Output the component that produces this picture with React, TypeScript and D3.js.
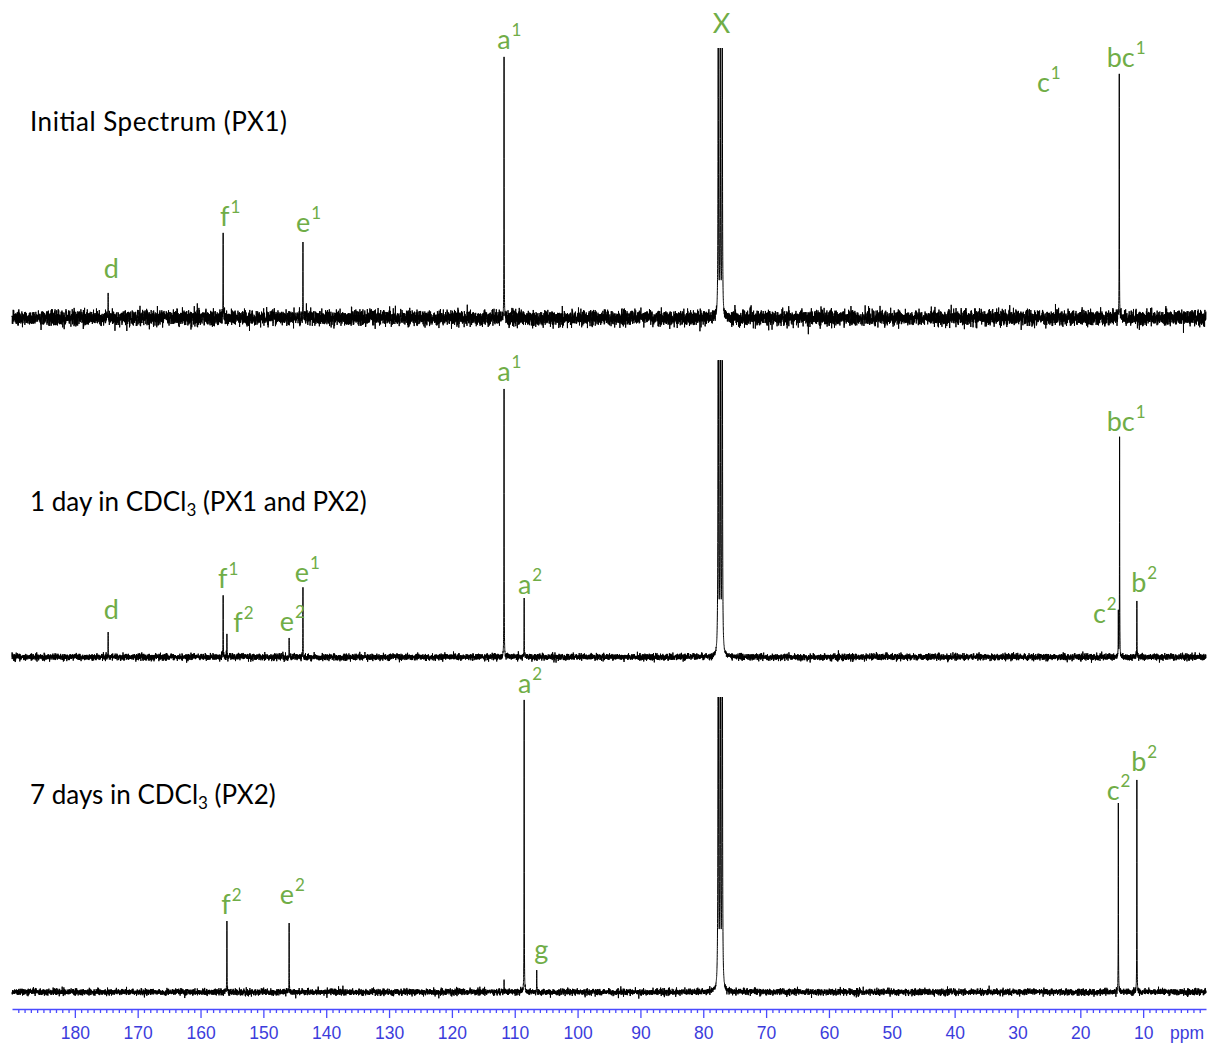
import React, { useRef, useEffect } from "react";
import * as d3 from "d3";

// peak positions (ppm) and heights (relative, tallest labelled peak = 100)
const peaksPX1 = [
  { ppm: 174.7, height: 9.6 },
  { ppm: 156.4, height: 32.6 },
  { ppm: 143.7, height: 29.1 },
  { ppm: 111.7, height: 100 },
  { ppm: 36.8, height: 4 },
  { ppm: 13.8, height: 93.5 },
];
const peaksDay1 = [
  { ppm: 174.7, height: 9.3 },
  { ppm: 156.4, height: 23 },
  { ppm: 155.8, height: 8.6 },
  { ppm: 145.9, height: 7.1 },
  { ppm: 143.7, height: 26 },
  { ppm: 111.7, height: 100 },
  { ppm: 108.5, height: 22 },
  { ppm: 13.75, height: 82 },
  { ppm: 13.95, height: 16.8 },
  { ppm: 11.0, height: 20.9 },
];
const peaksDay7 = [
  { ppm: 155.8, height: 24.3 },
  { ppm: 145.9, height: 23.6 },
  { ppm: 111.7, height: 3.4 },
  { ppm: 108.5, height: 100 },
  { ppm: 106.5, height: 7.5 },
  { ppm: 13.95, height: 64.7 },
  { ppm: 11.0, height: 72.6 },
];

// CDCl3 solvent triplet (X)
const solventPpm = [77.62, 77.3, 76.98];
const solventHeight = [150, 300, 300];
const solventWidth = [0.035, 0.03, 0.03];
const noiseLevel = [1.45, 0.6, 0.55];

const labelsPX1 = [
  { text: "d", ppm: 175.4, level: 15.3 },
  { text: "f", sup: "1", ppm: 156.9, level: 35.2 },
  { text: "e", sup: "1", ppm: 144.8, level: 33.0 },
  { text: "a", sup: "1", ppm: 112.8, level: 103.1 },
  { text: "X", ppm: 78.5, level: 109.2 },
  { text: "c", sup: "1", ppm: 26.9, level: 86.6 },
  { text: "bc", sup: "1", ppm: 15.8, level: 96.2 },
];
const labelsDay1 = [
  { text: "d", ppm: 175.4, level: 14.2 },
  { text: "f", sup: "1", ppm: 157.2, level: 25.7 },
  { text: "f", sup: "2", ppm: 154.8, level: 9.3 },
  { text: "e", sup: "2", ppm: 147.4, level: 9.7 },
  { text: "e", sup: "1", ppm: 145.0, level: 28.0 },
  { text: "a", sup: "1", ppm: 112.8, level: 103.0 },
  { text: "a", sup: "2", ppm: 109.5, level: 23.5 },
  { text: "bc", sup: "1", ppm: 15.8, level: 84.3 },
  { text: "c", sup: "2", ppm: 18.0, level: 12.7 },
  { text: "b", sup: "2", ppm: 11.9, level: 24.3 },
];
const labelsDay7 = [
  { text: "f", sup: "2", ppm: 156.7, level: 26.7 },
  { text: "e", sup: "2", ppm: 147.4, level: 30.1 },
  { text: "a", sup: "2", ppm: 109.5, level: 102.4 },
  { text: "g", ppm: 106.9, level: 11.3 },
  { text: "c", sup: "2", ppm: 15.8, level: 65.8 },
  { text: "b", sup: "2", ppm: 11.9, level: 75.7 },
];

const titles = [
  { pre: "Initial Spectrum (PX1)", sub: "", post: "" },
  { pre: "1 day in CDCl", sub: "3", post: " (PX1 and PX2)" },
  { pre: "7 days in CDCl", sub: "3", post: " (PX2)" },
];

const majorTicks = d3.range(10, 190, 10);
const minorTicks = d3.range(1, 190).filter((v) => v % 10 !== 0);

const width = 1209;
const height = 1043;
const green = "#70ad47";
const blue = "#4a4aff";
const font = "Lato, 'Open Sans', sans-serif";

// panel layout: baseline y, clip top y, level at clip top
const panels = [
  { base: 318, top: 48, maxLevel: 103.4, titleY: 131, titleW: 257 },
  { base: 657, top: 360, maxLevel: 110.8, titleY: 511, titleW: 337 },
  { base: 992, top: 697, maxLevel: 101, titleY: 804, titleW: 245 },
];

function mulberry32(a: number) {
  return function () {
    a |= 0;
    a = (a + 0x6d2b79f5) | 0;
    let t = Math.imul(a ^ (a >>> 15), 1 | a);
    t = (t + Math.imul(t ^ (t >>> 7), 61 | t)) ^ t;
    return ((t ^ (t >>> 14)) >>> 0) / 4294967296;
  };
}

const App = () => {
  const svgRef = useRef<SVGSVGElement>(null);

  useEffect(() => {
    const svg = d3.select(svgRef.current);
    svg.selectAll("*").remove();

    const x = d3.scaleLinear().domain([190, 0]).range([12, 1206]);
    const allPeaks = [peaksPX1, peaksDay1, peaksDay7];
    const allLabels = [labelsPX1, labelsDay1, labelsDay7];

    const step = 0.016;
    const nCoarse = Math.round(190 / step);

    allPeaks.forEach((peaks, i) => {
      const p = panels[i];
      const y = d3.scaleLinear().domain([0, p.maxLevel]).range([p.base, p.top]);

      // baseline noise texture (deterministic)
      const rnd = mulberry32(17 + i * 101);
      const noise: number[] = [];
      for (let k = 0; k <= nCoarse + 1; k++) {
        const u1 = Math.max(rnd(), 1e-9);
        const u2 = rnd();
        noise.push(Math.sqrt(-2 * Math.log(u1)) * Math.cos(2 * Math.PI * u2) * noiseLevel[i]);
      }
      const noiseAt = (ppm: number) => {
        const f = (190 - ppm) / step;
        const k = Math.max(0, Math.min(nCoarse, Math.floor(f)));
        const t = f - k;
        return noise[k] * (1 - t) + noise[k + 1] * t;
      };

      const lines = peaks.map((d) => ({ c: d.ppm, h: d.height, g: 0.02 }));
      solventPpm.forEach((c) => lines.push({ c, h: solventHeight[i], g: solventWidth[i] }));

      const pts: number[] = d3.range(0, nCoarse + 1).map((k) => 190 - k * step);
      lines.forEach((l) => {
        const span = l.h > 120 ? 150 : 30;
        for (let k = -span; k <= span; k++) pts.push(l.c + k * 0.008);
      });
      pts.sort((a, b) => b - a);

      const value = (ppm: number) => {
        const s = d3.sum(lines, (l) => (l.h * l.g * l.g) / ((ppm - l.c) ** 2 + l.g * l.g));
        // keep peak tops at their read heights
        return s + noiseAt(ppm) * Math.max(0, 1 - s / 6);
      };

      svg
        .append("clipPath")
        .attr("id", `clip${i}`)
        .append("rect")
        .attr("x", 0)
        .attr("y", p.top)
        .attr("width", width)
        .attr("height", p.base - p.top + 40);

      const line = d3
        .line<number>()
        .x((d) => x(d))
        .y((d) => y(value(d)));

      svg
        .append("path")
        .attr("d", line(pts))
        .attr("clip-path", `url(#clip${i})`)
        .attr("fill", "none")
        .attr("stroke", "#000")
        .attr("stroke-width", 1);

      // peak labels
      allLabels[i].forEach((lb) => {
        const t = svg
          .append("text")
          .attr("x", x(lb.ppm))
          .attr("y", y(lb.level))
          .attr("fill", green)
          .attr("font-family", font)
          .attr("font-size", 27);
        t.append("tspan").text(lb.text);
        if (lb.sup) {
          t.append("tspan").attr("dx", 1).attr("dy", -13).attr("font-size", 17).text(lb.sup);
        }
      });

      // panel title
      const tt = titles[i];
      const title = svg
        .append("text")
        .attr("x", 30)
        .attr("y", p.titleY)
        .attr("fill", "#000")
        .attr("font-family", font)
        .attr("font-size", 26);
      title.append("tspan").text(tt.pre);
      if (tt.sub) {
        title.append("tspan").attr("dy", 5).attr("font-size", 17).text(tt.sub);
        title.append("tspan").attr("dy", -5).text(tt.post);
      } else {
        title.attr("textLength", p.titleW).attr("lengthAdjust", "spacing");
      }
    });

    // ppm axis
    const axisG = svg.append("g").attr("transform", "translate(0,1009)");
    axisG
      .append("g")
      .call(d3.axisBottom(x).tickValues(minorTicks).tickSize(4).tickSizeOuter(0).tickFormat(() => ""))
      .call((g) => g.select(".domain").remove());
    axisG
      .append("g")
      .call(d3.axisBottom(x).tickValues(majorTicks).tickSize(9).tickSizeOuter(0))
      .call((g) => {
        g.select(".domain").attr("stroke", blue).attr("stroke-width", 1.5);
        g.selectAll("text")
          .attr("fill", "#3c3cdc")
          .attr("font-family", "'Liberation Sans', Arial, sans-serif")
          .attr("font-size", 17.5)
          .attr("y", 18);
      });
    axisG.selectAll("line").attr("stroke", blue).attr("stroke-width", 1.3);
    axisG
      .append("text")
      .attr("x", 1170)
      .attr("y", 30)
      .attr("fill", "#3c3cdc")
      .attr("font-family", "'Liberation Sans', Arial, sans-serif")
      .attr("font-size", 17.5)
      .text("ppm");
  }, []);

  return (
    <div style={styles.wrap}>
      <svg ref={svgRef} width={width} height={height} style={{ display: "block" }}></svg>
    </div>
  );
};

const styles = {
  wrap: {
    position: "absolute" as const,
    left: 0,
    top: 0,
    background: "#fff",
  },
};

export default App;
